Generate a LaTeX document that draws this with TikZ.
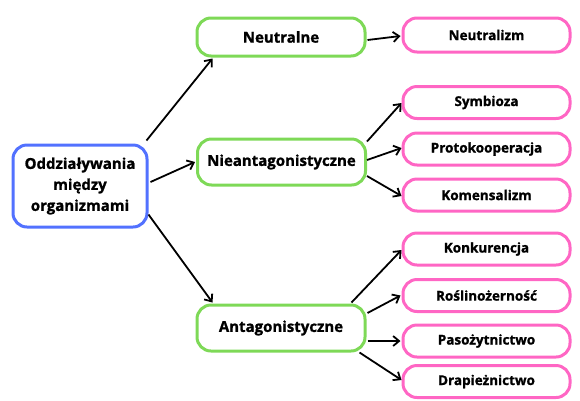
\documentclass[tikz,border=0pt]{standalone}
\usepackage{fontspec}
\setmainfont{Open Sans}[BoldFeatures={FakeBold=1.2}]
\usetikzlibrary{arrows.meta}
\definecolor{cblue}{RGB}{82,113,255}
\definecolor{cgreen}{RGB}{126,217,87}
\definecolor{cpink}{RGB}{255,102,196}
\tikzset{
  box/.style={draw, line width=3pt, rounded corners=14pt, align=center, inner sep=0pt, font=\bfseries},
  rootbox/.style={box, draw=cblue, minimum width=134pt, minimum height=82pt, font=\bfseries\fontsize{15}{21}\selectfont},
  midbox/.style={box, draw=cgreen, minimum width=168pt, minimum height=44pt, font=\bfseries\fontsize{15}{17}\selectfont},
  leafbox/.style={box, draw=cpink, minimum width=167pt, minimum height=32pt, font=\bfseries\fontsize{13.5}{15}\selectfont},
  conn/.style={line width=1.8pt, -{Straight Barb[length=6pt,width=10pt,line width=1.8pt]}}
}
\begin{document}
\begin{tikzpicture}[x=1pt,y=-1pt]
\useasboundingbox (0,0) rectangle (580,400);
\node[rootbox] (root) at (80,186) {Oddziaływania\\między\\organizmami};
\node[midbox, minimum height=38pt] (neu) at (281,37) {Neutralne};
\node[midbox, minimum height=46pt] (nie) at (281.5,162) {Nieantagonistyczne};
\node[midbox, minimum height=46pt] (ant) at (281,328) {Antagonistyczne};
\node[leafbox, minimum height=34pt] (neutr) at (486.5,35) {Neutralizm};
\node[leafbox] (symb) at (486.5,102.5) {Symbioza};
\node[leafbox] (proto) at (486.5,149) {Protokooperacja};
\node[leafbox] (kom) at (486.5,195) {Komensalizm};
\node[leafbox] (konk) at (486.5,249) {Konkurencja};
\node[leafbox] (rosl) at (486.5,295.5) {Roślinożerność};
\node[leafbox] (paso) at (486.5,341) {Pasożytnictwo};
\node[leafbox] (drap) at (486.5,381.5) {Drapieżnictwo};
\draw[conn] ([xshift=-2pt,yshift=3pt]root.north east) -- ([xshift=17pt,yshift=-1pt]neu.south west);
\draw[conn] ([xshift=2pt,yshift=4pt]root.east) -- ([xshift=-1pt]nie.west);
\draw[conn] ([yshift=14pt]root.south east) -- ([xshift=17pt,yshift=1pt]ant.north west);
\draw[conn] ([xshift=1pt,yshift=-3pt]neu.east) -- ([xshift=-1pt,yshift=-1pt]neutr.west);
\draw[conn] ([yshift=-4pt]nie.north east) -- ([yshift=-0.5pt]symb.west);
\draw[conn] ([yshift=2pt]nie.east) -- ([yshift=1pt]proto.west);
\draw[conn] ([yshift=-14pt]nie.east) -- ([yshift=-1pt]kom.west);
\draw[conn] ([xshift=-15pt,yshift=1pt]ant.north east) -- ([yshift=-1pt]konk.west);
\draw[conn] ([xshift=1pt,yshift=15pt]ant.east) -- ([xshift=-1pt]rosl.west);
\draw[conn] ([xshift=1pt,yshift=-13pt]ant.east) -- ([xshift=-1pt]paso.west);
\draw[conn] ([xshift=-7pt]ant.south east) -- ([yshift=1.5pt]drap.west);
\end{tikzpicture}
\end{document}
